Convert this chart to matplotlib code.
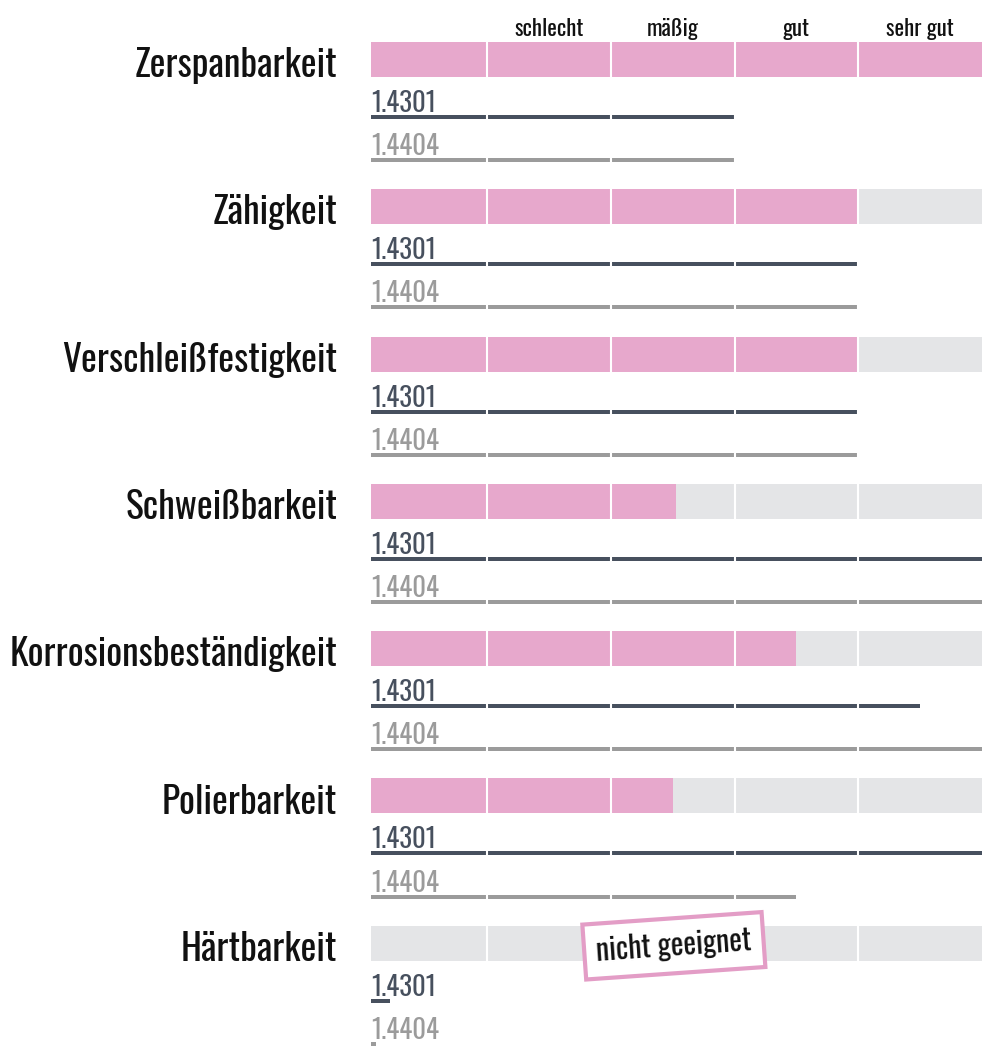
"""Werkstoffeigenschaften 1.4301 / 1.4404"""

import os

import matplotlib
matplotlib.use("Agg")
import matplotlib.font_manager as fm
import matplotlib.pyplot as plt

# Daten
eigenschaften = ["Zerspanbarkeit", "Zähigkeit", "Verschleißfestigkeit", "Schweißbarkeit",
                 "Korrosionsbeständigkeit", "Polierbarkeit", "Härtbarkeit"]
spalten = ["", "schlecht", "mäßig", "gut", "sehr gut"]
bewertung = [5, 4, 4, 2.53, 3.5, 2.5, 0]       # rosa Balken
werte_4301 = [3, 4, 4, 5, 4.5, 5, 0.22]
werte_4404 = [3, 4, 4, 5, 5, 3.5, 0.1]
werkstoffe = ["1.4301", "1.4404"]
hinweis = "nicht geeignet"

# Farben
rosa = "#e7a8cc"
grau_bg = "#e4e5e7"
dunkel = "#47505e"
hell = "#9b9b9b"

fig = plt.figure(figsize=(10, 10.57), dpi=100)
renderer = fig.canvas.get_renderer()


def breite(text, prop):
    w, _, _ = renderer.get_text_width_height_descent(text, prop, ismath=False)
    return w


# schmale Schrift: Oswald, sonst ähnliche Condensed-Schriften
def schmale_schrift():
    dateien = {os.path.basename(f.fname): f.fname for f in fm.fontManager.ttflist}
    wunsch = ["Oswald-Light", "Oswald[wght]", "Oswald-Regular", "Oswald",
              "BarlowCondensed-Light", "FiraSansExtraCondensed-Light", "DejaVuSansCondensed"]
    for w in wunsch:
        for b in sorted(dateien):
            if b.startswith(w):
                return fm.FontProperties(fname=dateien[b])
    return fm.FontProperties(family="DejaVu Sans", stretch="condensed")


fp = schmale_schrift()


# Schriftgröße so wählen, dass die Textbreite zur Vorlage passt
def passend(text, ziel_px):
    p = fp.copy()
    p.set_size(30)
    return 30 * ziel_px / breite(text, p)


gr_name = passend("Zerspanbarkeit", 202)
gr_wst = passend("1.4301", 65)
gr_kopf = passend("schlecht", 69)
gr_hinw = passend(hinweis, 155)

ax = fig.add_axes([0.371, 0.0, 0.611, 1.0])
ax.set_xlim(0.0625, 5)
zeile = 147.3  # Pixel pro Zeile
ax.set_ylim((1057 - 42) / zeile, -42 / zeile)
ax.axis("off")

bar_h = 35 / zeile
lin_h = 4 / zeile
off1 = 75 / zeile
off2 = 118 / zeile

for i, name in enumerate(eigenschaften):
    ax.barh(i, 5, left=0, height=bar_h, align="edge", color=grau_bg, zorder=1)
    ax.barh(i, bewertung[i], left=0, height=bar_h, align="edge", color=rosa, zorder=2)
    ax.barh(i + off1 - lin_h / 2, werte_4301[i], height=lin_h, align="edge", color=dunkel, zorder=2)
    ax.barh(i + off2 - lin_h / 2, werte_4404[i], height=lin_h, align="edge", color=hell, zorder=2)

    ax.text(-0.212, i + bar_h, name, ha="right", va="baseline", fontproperties=fp,
            fontsize=gr_name, color="#111111", clip_on=False)
    ax.text(0.0625, i + 70 / zeile, werkstoffe[0], ha="left", va="baseline", fontproperties=fp,
            fontsize=gr_wst, color=dunkel)
    ax.text(0.0625, i + 113 / zeile, werkstoffe[1], ha="left", va="baseline", fontproperties=fp,
            fontsize=gr_wst, color=hell)

# weiße Spaltentrenner
for k in range(1, 5):
    ax.axvline(k, color="white", lw=1.5, zorder=3)

# Spaltenüberschriften
for k, s in enumerate(spalten):
    if s:
        ax.text(k + 0.5, -6 / zeile, s, ha="center", va="baseline", fontproperties=fp,
                fontsize=gr_kopf, color="#111111")

# Hinweis Härtbarkeit
ax.text(2.51, 6 + 20 / zeile, hinweis, ha="center", va="center", fontproperties=fp,
        fontsize=gr_hinw, rotation=4, color="#111111", zorder=5,
        bbox=dict(boxstyle="square,pad=0.4", fc="white", ec="#e39dc6", lw=3))

fig.savefig("out.png", dpi=100)
